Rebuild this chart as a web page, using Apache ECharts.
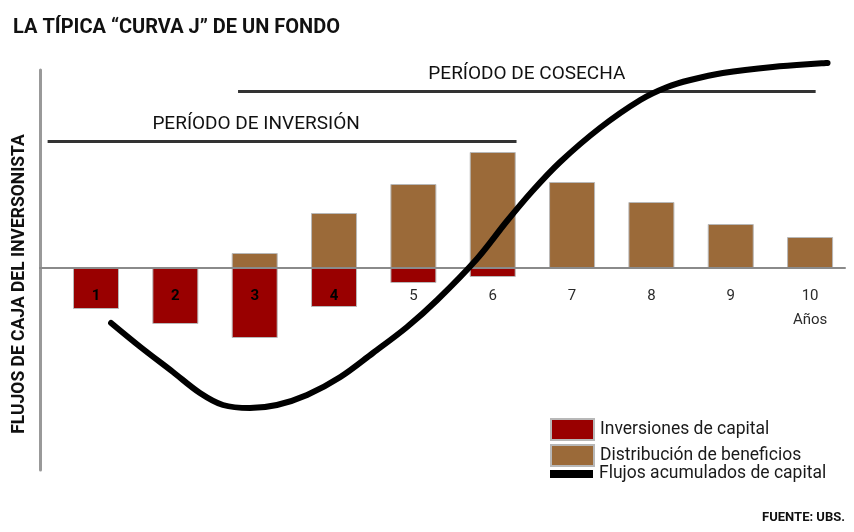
<!DOCTYPE html>
<html>
<head>
<meta charset="utf-8">
<script src="https://cdn.jsdelivr.net/npm/echarts@6/dist/echarts.min.js"></script>
<style>
  html, body { margin: 0; padding: 0; background: #ffffff; }
  #chart { width: 854px; height: 532px; }
</style>
</head>
<body>
<div id="chart"></div>
<script>
// Years on the horizontal axis
const years = ['1', '2', '3', '4', '5', '6', '7', '8', '9', '10'];
// Capital called from the investor each year (negative flows)
const capitalCalls = [-4.1, -5.6, -7.0, -3.9, -1.5, -0.9, null, null, null, null];
// Profits distributed to the investor each year (positive flows)
const distributions = [null, null, 1.5, 5.5, 8.4, 11.6, 8.6, 6.6, 4.4, 3.1];
// Cumulative capital flow (the J curve)
const curveYear = [1.19, 1.56, 1.97, 2.31, 2.6, 2.94, 3.28, 3.66, 4.08, 4.49, 4.92, 5.3, 5.8, 6.18, 6.5, 6.85, 7.35, 7.86, 8.2, 8.49, 8.9, 9.53, 10.22];
const curveValue = [-5.5, -7.9, -10.4, -12.5, -13.7, -14.0, -13.7, -12.7, -10.9, -8.5, -5.9, -3.2, 0.9, 4.7, 7.7, 10.6, 14.0, 16.8, 18.1, 18.8, 19.5, 20.1, 20.5];
// Fund periods drawn as bracket lines above the bars
const periodNames = ['PERÍODO DE INVERSIÓN', 'PERÍODO DE COSECHA'];
const periodStart = [0.39, 2.79];
const periodEnd = [6.3, 10.07];
const periodLevel = [12.7, 17.7];

const seriesNames = ['Inversiones de capital', 'Distribución de beneficios', 'Flujos acumulados de capital'];
const RED = '#990000';
const BROWN = '#9b6a39';
const FONT = "Roboto, 'Noto Sans', sans-serif";

const Y_MIN = -20.2;
const Y_MAX = 19.8;
const GRID = { left: 40, right: 9, top: 70, bottom: 62 };
// pixel distance from the bottom of the plot up to the zero line
const zeroOffset = (532 - GRID.top - GRID.bottom) * (0 - Y_MIN) / (Y_MAX - Y_MIN);

const chart = echarts.init(document.getElementById('chart'), null, { renderer: 'canvas' });

const barPairs = (vals) => vals.map((v, i) => [i + 1, v]);
const curvePairs = curveYear.map((x, i) => [x, curveValue[i]]);

const legendBase = {
  orient: 'vertical',
  left: 545,
  itemWidth: 43,
  itemHeight: 21,
  textStyle: { fontFamily: FONT, fontSize: 17.5, color: '#1a1a1a', padding: [0, 0, 0, 1] },
  selectedMode: false
};

chart.setOption({
  animation: false,
  backgroundColor: '#ffffff',
  title: [
    {
      text: 'LA TÍPICA “CURVA J” DE UN FONDO',
      left: 8, top: 13,
      textStyle: { fontFamily: FONT, fontSize: 20, fontWeight: 'bold', color: '#111' }
    },
    {
      text: 'FUENTE: UBS.',
      right: 4, bottom: 3,
      textStyle: { fontFamily: FONT, fontSize: 13, fontWeight: 'bold', color: '#111' }
    }
  ],
  legend: [
    Object.assign({}, legendBase, { top: 413, data: [{ name: seriesNames[0], icon: 'rect' }] }),
    Object.assign({}, legendBase, { top: 439, data: [{ name: seriesNames[1], icon: 'rect' }] }),
    Object.assign({}, legendBase, { top: 460, data: [{ name: seriesNames[2], icon: 'path://M0,0H43V8H0Z' }] })
  ],
  grid: Object.assign({ outerBoundsMode: 'none', containLabel: false }, GRID),
  xAxis: {
    type: 'value',
    min: 0.294,
    max: 10.44,
    z: 5,
    offset: -zeroOffset,
    splitLine: { show: false },
    axisTick: { show: false },
    axisLine: { onZero: false, lineStyle: { color: '#8a8a8a', width: 2 } },
    axisLabel: {
      customValues: years.map((y, i) => i + 1),
      margin: 16,
      lineHeight: 24,
      fontFamily: FONT,
      fontSize: 15,
      color: '#2a2a2a',
      formatter: (v) => {
        const i = Math.round(v) - 1;
        const label = years[i];
        if (capitalCalls[i] !== null && capitalCalls[i] < -3) return '{inner|' + label + '}';
        return label === '10' ? label + '\nAños' : label;
      },
      rich: {
        inner: { fontFamily: FONT, fontSize: 15, fontWeight: 'bold', color: '#000', lineHeight: 24 }
      }
    }
  },
  yAxis: {
    type: 'value',
    min: Y_MIN,
    max: Y_MAX,
    name: 'FLUJOS DE CAJA DEL INVERSONISTA',
    nameLocation: 'middle',
    nameRotate: 90,
    nameGap: 11,
    nameTextStyle: { fontFamily: FONT, fontSize: 17.5, fontWeight: 'bold', color: '#111', padding: [0, 28, 0, 0] },
    splitLine: { show: false },
    axisTick: { show: false },
    axisLabel: { show: false },
    axisLine: { show: true, onZero: false, lineStyle: { color: '#999', width: 3 } }
  },
  series: [
    {
      name: seriesNames[0],
      type: 'bar',
      stack: 'flujo',
      barWidth: 46,
      data: barPairs(capitalCalls),
      itemStyle: { color: RED, borderColor: '#b8b8b8', borderWidth: 1 }
    },
    {
      name: seriesNames[1],
      type: 'bar',
      stack: 'flujo',
      barWidth: 46,
      data: barPairs(distributions),
      itemStyle: { color: BROWN, borderColor: '#b8b8b8', borderWidth: 1 }
    },
    {
      name: seriesNames[2],
      type: 'line',
      data: curvePairs,
      smooth: 0.35,
      showSymbol: false,
      clip: false,
      z: 10,
      color: '#000',
      lineStyle: { color: '#000', width: 6, cap: 'round' },
      markLine: {
        silent: true,
        symbol: ['none', 'none'],
        lineStyle: { color: '#333', width: 3, type: 'solid' },
        label: {
          position: 'insideMiddleTop',
          distance: 7,
          fontFamily: FONT,
          fontSize: 19,
          color: '#111',
          formatter: '{b}'
        },
        data: periodNames.map((name, i) => [
          {
            name: name,
            coord: [periodStart[i], periodLevel[i]],
            label: i === 0 ? { padding: [0, 52, 0, 0] } : {}
          },
          { coord: [periodEnd[i], periodLevel[i]] }
        ])
      }
    }
  ]
});
</script>
</body>
</html>
